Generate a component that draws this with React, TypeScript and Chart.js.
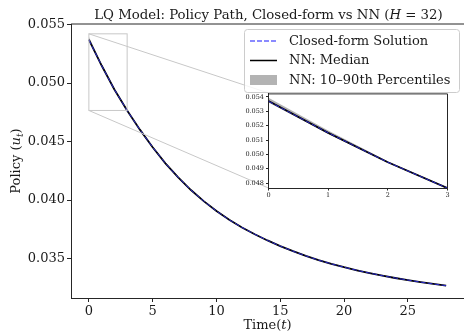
import React, { useEffect, useRef } from "react";
import { Chart, registerables } from "chart.js";

Chart.register(...registerables);

// ---------- data ----------
const timeSteps = [0, 1, 2, 3, 4, 5, 6, 7, 8, 9, 10, 11, 12, 13, 14, 15, 16, 17, 18, 19, 20, 21, 22, 23, 24, 25, 26, 27, 28];
const closedForm = [0.05370, 0.05150, 0.04945, 0.04765, 0.04602, 0.04452, 0.04314, 0.04194, 0.04086, 0.03991, 0.03906, 0.03831, 0.03766, 0.03708, 0.03655, 0.03607, 0.03563, 0.03523, 0.03487, 0.03455, 0.03426, 0.03400, 0.03376, 0.03354, 0.03334, 0.03316, 0.03299, 0.03283, 0.03268];
const nnMedian = [0.05372, 0.05150, 0.04945, 0.04765, 0.04602, 0.04452, 0.04314, 0.04194, 0.04086, 0.03991, 0.03906, 0.03831, 0.03766, 0.03708, 0.03655, 0.03607, 0.03563, 0.03523, 0.03487, 0.03455, 0.03426, 0.03400, 0.03376, 0.03354, 0.03334, 0.03316, 0.03299, 0.03283, 0.03268];
const nnP90 = [0.05395, 0.05166, 0.04953, 0.04770, 0.04606, 0.04455, 0.04317, 0.04197, 0.04089, 0.03994, 0.03909, 0.03834, 0.03769, 0.03711, 0.03658, 0.03610, 0.03566, 0.03526, 0.03490, 0.03458, 0.03429, 0.03403, 0.03379, 0.03357, 0.03337, 0.03319, 0.03302, 0.03286, 0.03271];
const nnP10 = [0.05362, 0.05143, 0.04941, 0.04762, 0.04599, 0.04449, 0.04311, 0.04191, 0.04083, 0.03988, 0.03903, 0.03828, 0.03763, 0.03705, 0.03652, 0.03604, 0.03560, 0.03520, 0.03484, 0.03452, 0.03423, 0.03397, 0.03373, 0.03351, 0.03331, 0.03313, 0.03296, 0.03280, 0.03265];

const mainXTicks = [0, 5, 10, 15, 20, 25];
const mainYTicks = [0.035, 0.04, 0.045, 0.05, 0.055];
const insetXTicks = [0, 1, 2, 3];
const insetYTicks = [0.048, 0.049, 0.05, 0.051, 0.052, 0.053, 0.054];

const mainXRange = [-1.4, 29.4];
const mainYRange = [0.03163, 0.05505];
const insetXRange = [0, 3];
const insetYRange = [0.04766, 0.05421];

const legendLabels = ["Closed-form Solution", "NN: Median", "NN: 10\u201390th Percentiles"];

type Seg = { t: string; it?: boolean; sub?: boolean };
const titleSegs: Seg[] = [
  { t: "LQ Model: Policy Path, Closed-form vs NN (" },
  { t: "H", it: true },
  { t: " = 32)" },
];
const xLabelSegs: Seg[] = [{ t: "Time(" }, { t: "t", it: true }, { t: ")" }];
const yLabelSegs: Seg[] = [{ t: "Policy (" }, { t: "u", it: true }, { t: "t", it: true, sub: true }, { t: ")" }];

// ---------- styles ----------
const FONT = "DejaVu Serif";
const TEXT = "#1a1a1a";
const AXIS = "#262626";
const BLUE = "rgba(50,50,255,0.8)";
const BLUE_LEGEND = "rgba(60,60,255,0.8)";
const BAND = "rgba(128,128,128,0.6)";
const ZOOM_LINE = "#c8c8c8";

function segFont(s: Seg, size: number) {
  const sz = s.sub ? size * 0.7 : size;
  return `${s.it ? "italic " : ""}${sz}px "${FONT}"`;
}

function drawRich(ctx: CanvasRenderingContext2D, segs: Seg[], cx: number, baseline: number, size: number) {
  let total = 0;
  const widths = segs.map((s) => {
    ctx.font = segFont(s, size);
    const w = ctx.measureText(s.t).width;
    total += w;
    return w;
  });
  let x = cx - total / 2;
  ctx.textBaseline = "alphabetic";
  ctx.textAlign = "left";
  segs.forEach((s, i) => {
    ctx.font = segFont(s, size);
    ctx.fillText(s.t, x, baseline + (s.sub ? size * 0.22 : 0));
    x += widths[i];
  });
}

function toPoints(vals: number[]) {
  return timeSteps.map((t, i) => ({ x: t, y: vals[i] }));
}

function makeDatasets(blackW: number, blueW: number, dash: number[]) {
  return [
    {
      label: legendLabels[0],
      data: toPoints(closedForm),
      borderColor: BLUE,
      borderWidth: blueW,
      borderDash: dash,
      pointRadius: 0,
      fill: false,
      tension: 0,
    },
    {
      label: legendLabels[1],
      data: toPoints(nnMedian),
      borderColor: "#000000",
      borderWidth: blackW,
      pointRadius: 0,
      fill: false,
      tension: 0,
    },
    {
      label: legendLabels[2],
      data: toPoints(nnP90),
      borderWidth: 0,
      borderColor: "rgba(0,0,0,0)",
      backgroundColor: BAND,
      pointRadius: 0,
      fill: "+1",
      tension: 0,
    },
    {
      label: "p10",
      data: toPoints(nnP10),
      borderWidth: 0,
      borderColor: "rgba(0,0,0,0)",
      pointRadius: 0,
      fill: false,
      tension: 0,
    },
  ];
}

// inset plot area in page pixels (main canvas sits at page 0,0)
const INSET_CANVAS = { left: 236, top: 88, width: 222, height: 112 };
const INSET_AREA = { left: 268.5, top: 93, right: 447.5, bottom: 188 };

export default function App() {
  const mainRef = useRef<HTMLCanvasElement>(null);
  const insetRef = useRef<HTMLCanvasElement>(null);

  useEffect(() => {
    if (!mainRef.current || !insetRef.current) return;

    const mainPlugin = {
      id: "mainDecor",
      afterDatasetsDraw(chart: any) {
        const ctx = chart.ctx as CanvasRenderingContext2D;
        const xs = chart.scales.x;
        const ys = chart.scales.y;
        ctx.save();
        const rx0 = xs.getPixelForValue(insetXRange[0]);
        const rx1 = xs.getPixelForValue(insetXRange[1]);
        const ry0 = ys.getPixelForValue(insetYRange[1]);
        const ry1 = ys.getPixelForValue(insetYRange[0]);
        ctx.strokeStyle = ZOOM_LINE;
        ctx.lineWidth = 1;
        ctx.strokeRect(rx0, ry0, rx1 - rx0, ry1 - ry0);
        ctx.beginPath();
        ctx.moveTo(rx0, ry0);
        ctx.lineTo(INSET_AREA.left, INSET_AREA.top);
        ctx.moveTo(rx0, ry1);
        ctx.lineTo(INSET_AREA.left, INSET_AREA.bottom);
        ctx.stroke();
        ctx.restore();
      },
      afterDraw(chart: any) {
        const ctx = chart.ctx as CanvasRenderingContext2D;
        const a = chart.chartArea;
        ctx.save();
        ctx.strokeStyle = AXIS;
        ctx.lineWidth = 1;
        ctx.beginPath();
        ctx.moveTo(a.left, a.top);
        ctx.lineTo(a.right, a.top);
        ctx.stroke();
        ctx.fillStyle = TEXT;
        const cx = (a.left + a.right) / 2;
        drawRich(ctx, titleSegs, cx + 1, 19, 13.3);
        drawRich(ctx, xLabelSegs, cx, 329, 13);
        ctx.save();
        ctx.translate(20, (a.top + a.bottom) / 2);
        ctx.rotate(-Math.PI / 2);
        drawRich(ctx, yLabelSegs, 0, 0, 13);
        ctx.restore();

        // legend
        const lx = 244.5, ly = 29.5, lw = 215, lh = 63;
        ctx.beginPath();
        ctx.roundRect(lx, ly, lw, lh, 3);
        ctx.fillStyle = "rgba(255,255,255,0.8)";
        ctx.fill();
        ctx.strokeStyle = "#cccccc";
        ctx.lineWidth = 1;
        ctx.stroke();
        const rows = [41, 60.5, 80];
        ctx.strokeStyle = BLUE_LEGEND;
        ctx.lineWidth = 1.5;
        ctx.setLineDash([5, 2]);
        ctx.beginPath();
        ctx.moveTo(250, rows[0]);
        ctx.lineTo(277, rows[0]);
        ctx.stroke();
        ctx.setLineDash([]);
        ctx.strokeStyle = "#000";
        ctx.beginPath();
        ctx.moveTo(250, rows[1]);
        ctx.lineTo(277, rows[1]);
        ctx.stroke();
        ctx.fillStyle = BAND;
        ctx.fillRect(250, rows[2] - 5, 27, 10);
        ctx.fillStyle = TEXT;
        ctx.font = `13px "${FONT}"`;
        ctx.textBaseline = "middle";
        ctx.textAlign = "left";
        legendLabels.forEach((l, i) => ctx.fillText(l, 289, rows[i] + 0.5));
        ctx.restore();
      },
    };

    const tickFont = { family: FONT, size: 13 };
    const main = new Chart(mainRef.current, {
      type: "line",
      data: { datasets: makeDatasets(1.8, 1.0, [5, 2]) as any },
      plugins: [mainPlugin],
      options: {
        animation: false,
        responsive: false,
        devicePixelRatio: 1,
        layout: { padding: { top: 24, left: 0, right: 0, bottom: 0 } },
        plugins: { legend: { display: false }, title: { display: false }, tooltip: { enabled: false } },
        scales: {
          x: {
            type: "linear",
            min: mainXRange[0],
            max: mainXRange[1],
            afterBuildTicks: (s: any) => {
              s.ticks = mainXTicks.map((v) => ({ value: v }));
            },
            afterFit: (s: any) => {
              s.height = 36;
            },
            ticks: {
              font: tickFont,
              color: TEXT,
              padding: 2,
              maxRotation: 0,
              autoSkip: false,
              callback: (v: any) => String(v),
            },
            grid: { drawOnChartArea: false, drawTicks: true, tickLength: 4, color: AXIS },
            border: { display: true, color: AXIS, width: 1 },
          },
          y: {
            type: "linear",
            min: mainYRange[0],
            max: mainYRange[1],
            afterBuildTicks: (s: any) => {
              s.ticks = mainYTicks.map((v) => ({ value: v }));
            },
            afterFit: (s: any) => {
              s.width = 71;
            },
            ticks: {
              font: tickFont,
              color: TEXT,
              padding: 2,
              autoSkip: false,
              callback: (v: any) => Number(v).toFixed(3),
            },
            grid: { drawOnChartArea: false, drawTicks: true, tickLength: 4, color: AXIS },
            border: { display: true, color: AXIS, width: 1 },
          },
        },
      } as any,
    });

    const insetPlugin = {
      id: "insetDecor",
      beforeDraw(chart: any) {
        const ctx = chart.ctx as CanvasRenderingContext2D;
        const a = chart.chartArea;
        ctx.save();
        ctx.fillStyle = "#ffffff";
        ctx.fillRect(a.left, a.top, a.right - a.left, a.bottom - a.top);
        ctx.restore();
      },
      afterDraw(chart: any) {
        const ctx = chart.ctx as CanvasRenderingContext2D;
        const a = chart.chartArea;
        ctx.save();
        ctx.strokeStyle = AXIS;
        ctx.lineWidth = 1;
        ctx.beginPath();
        ctx.moveTo(a.left, a.top);
        ctx.lineTo(a.right, a.top);
        ctx.lineTo(a.right, a.bottom);
        ctx.stroke();
        ctx.restore();
      },
    };

    const insetFont = { family: FONT, size: 6.5 };
    const inset = new Chart(insetRef.current, {
      type: "line",
      data: { datasets: makeDatasets(1.8, 1.0, [5, 2]) as any },
      plugins: [insetPlugin],
      options: {
        animation: false,
        responsive: false,
        devicePixelRatio: 1,
        layout: {
          padding: {
            top: INSET_AREA.top - INSET_CANVAS.top,
            left: 0,
            right: INSET_CANVAS.left + INSET_CANVAS.width - INSET_AREA.right,
            bottom: 0,
          },
        },
        plugins: { legend: { display: false }, title: { display: false }, tooltip: { enabled: false } },
        scales: {
          x: {
            type: "linear",
            min: insetXRange[0],
            max: insetXRange[1],
            afterBuildTicks: (s: any) => {
              s.ticks = insetXTicks.map((v) => ({ value: v }));
            },
            afterFit: (s: any) => {
              s.height = INSET_CANVAS.top + INSET_CANVAS.height - INSET_AREA.bottom;
            },
            ticks: {
              font: insetFont,
              color: TEXT,
              padding: 1,
              maxRotation: 0,
              autoSkip: false,
              callback: (v: any) => String(v),
            },
            grid: { drawOnChartArea: false, drawTicks: true, tickLength: 2.5, color: AXIS },
            border: { display: true, color: AXIS, width: 1 },
          },
          y: {
            type: "linear",
            min: insetYRange[0],
            max: insetYRange[1],
            afterBuildTicks: (s: any) => {
              s.ticks = insetYTicks.map((v) => ({ value: v }));
            },
            afterFit: (s: any) => {
              s.width = INSET_AREA.left - INSET_CANVAS.left;
            },
            ticks: {
              font: insetFont,
              color: TEXT,
              padding: 2,
              autoSkip: false,
              callback: (v: any) => Number(v).toFixed(3),
            },
            grid: { drawOnChartArea: false, drawTicks: true, tickLength: 2.5, color: AXIS },
            border: { display: true, color: AXIS, width: 1 },
          },
        },
      } as any,
    });

    return () => {
      main.destroy();
      inset.destroy();
    };
  }, []);

  return (
    <div style={{ position: "fixed", left: 0, top: 0, width: 464, height: 334, background: "#fff", overflow: "hidden" }}>
      <canvas ref={mainRef} width={464} height={334} style={{ position: "absolute", left: 0, top: 0, display: "block" }} />
      <canvas
        ref={insetRef}
        width={INSET_CANVAS.width}
        height={INSET_CANVAS.height}
        style={{ position: "absolute", left: INSET_CANVAS.left, top: INSET_CANVAS.top, display: "block" }}
      />
    </div>
  );
}
